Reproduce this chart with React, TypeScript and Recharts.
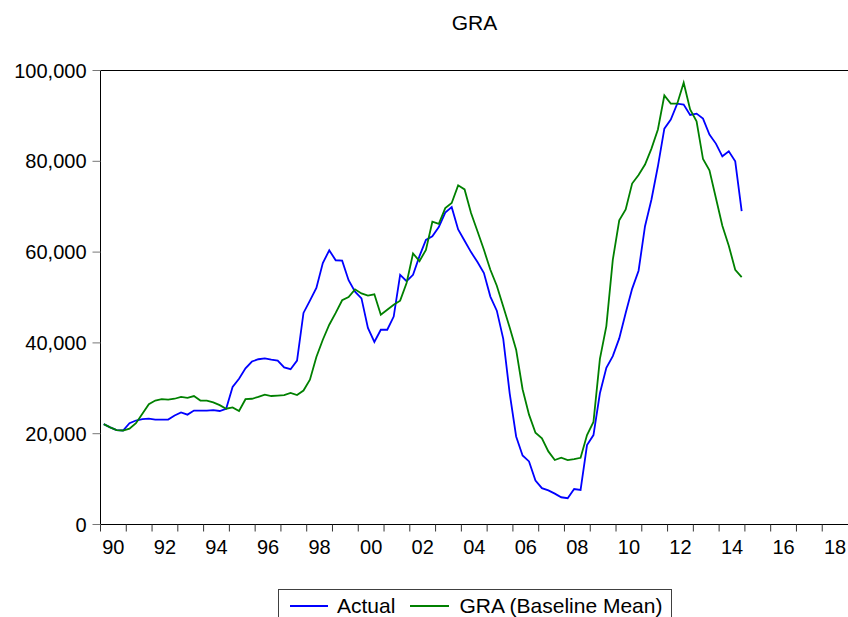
import { LineChart, Line, XAxis, YAxis, ReferenceLine } from "recharts";

// quarterly, 1990Q1 .. 2014Q4
const quarters: string[] = [];
for (let y = 1990; y <= 2014; y++) {
  for (let q = 1; q <= 4; q++) quarters.push(`${y}Q${q}`);
}

const actual = [
  22100, 21400, 20800, 20700, 22300, 22900, 23200, 23300, 23100, 23100,
  23100, 24000, 24700, 24200, 25100, 25100, 25100, 25200, 25000, 25500,
  30300, 32100, 34400, 35900, 36400, 36600, 36300, 36100, 34600, 34200,
  36100, 46600, 49300, 52100, 57600, 60400, 58200, 58100, 53800, 51300,
  49800, 43300, 40200, 42900, 42900, 45800, 55000, 53600, 55000, 59100,
  62700, 63500, 65500, 68700, 69900, 65000, 62500, 60000, 57800, 55400,
  50200, 47100, 40900, 28900, 19400, 15200, 13900, 9700, 8000, 7500,
  6800, 6000, 5800, 7800, 7600, 17500, 19700, 28900, 34500, 37100,
  41000, 46600, 51900, 55900, 65700, 71600, 78900, 87200, 89200, 92700,
  92500, 90200, 90500, 89400, 85900, 83900, 81100, 82200, 80000, 69000,
];

const baselineMean = [
  22100, 21400, 20800, 20700, 21100, 22300, 24400, 26500, 27300, 27600,
  27500, 27700, 28100, 27900, 28300, 27300, 27300, 26900, 26300, 25500,
  25800, 25000, 27600, 27700, 28100, 28600, 28300, 28400, 28500, 29000,
  28500, 29500, 31900, 36900, 40700, 44000, 46600, 49400, 50100, 51800,
  50900, 50400, 50700, 46200, 47300, 48400, 49300, 53200, 59700, 58000,
  60500, 66700, 66200, 69700, 70800, 74700, 73800, 68600, 64600, 60500,
  56100, 52600, 48000, 43400, 38500, 29800, 24200, 20200, 19000, 16100,
  14200, 14700, 14200, 14400, 14700, 19700, 22600, 36500, 43700, 58300,
  67000, 69400, 75100, 77000, 79300, 82800, 87000, 94500, 92700, 92700,
  97300, 91400, 88800, 80500, 78000, 71900, 65800, 61400, 56100, 54500,
];

const yearTicks = [
  1990, 1991, 1992, 1993, 1994, 1995, 1996, 1997, 1998, 1999, 2000, 2001, 2002, 2003, 2004,
  2005, 2006, 2007, 2008, 2009, 2010, 2011, 2012, 2013, 2014, 2015, 2016, 2017, 2018,
];
const yTicks = [0, 20000, 40000, 60000, 80000, 100000];

// observation sits in the middle of its quarter
const data = quarters.map((label, i) => ({
  t: Number(label.slice(0, 4)) + (Number(label.slice(5)) - 0.5) / 4,
  actual: actual[i],
  baseline: baselineMean[i],
}));

const FONT = "'Liberation Sans', Arial, sans-serif";
const AXIS_W = 100.5;
const X_DOMAIN: [number, number] = [1990, 2019];
const HALF_YEAR = (848 - AXIS_W) / (X_DOMAIN[1] - X_DOMAIN[0]) / 2;

// labels every other year, centred inside the year
const YearTick = (props: any) => {
  const { x, y, payload } = props;
  const yr = payload.value as number;
  if (yr % 2 !== 0) return <g />;
  return (
    <text x={x + HALF_YEAR} y={y} dy={14.4} textAnchor="middle" fill="#000" fontSize={20} fontFamily={FONT}>
      {String(yr % 100).padStart(2, "0")}
    </text>
  );
};

export default function App() {
  return (
    <div
      style={{
        position: "absolute",
        left: 0,
        top: 0,
        width: 848,
        height: 617,
        overflow: "hidden",
        background: "#fff",
        fontFamily: FONT,
      }}
    >
      <div
        style={{
          position: "absolute",
          top: 12,
          left: 101,
          width: 747,
          textAlign: "center",
          fontSize: 21,
          lineHeight: "21px",
          color: "#000",
        }}
      >
        GRA
      </div>

      <LineChart width={848} height={617} data={data} margin={{ top: 70.5, right: 0, bottom: 0, left: 0 }}>
        <XAxis
          dataKey="t"
          type="number"
          domain={X_DOMAIN}
          allowDataOverflow
          ticks={yearTicks}
          interval={0}
          tick={<YearTick />}
          tickSize={7}
          tickMargin={7.6}
          tickLine={{ stroke: "#333" }}
          axisLine={{ stroke: "#000" }}
          height={92.5}
        />
        <YAxis
          type="number"
          domain={[0, 100000]}
          ticks={yTicks}
          interval={0}
          width={AXIS_W}
          tickSize={8}
          tickMargin={6}
          tickFormatter={(v: number) => v.toLocaleString("en-US")}
          tick={{ fill: "#000", fontSize: 20, fontFamily: FONT }}
          tickLine={{ stroke: "#777" }}
          axisLine={{ stroke: "#000" }}
        />
        <ReferenceLine y={100000} stroke="#000" strokeWidth={1} />
        <Line
          type="linear"
          dataKey="actual"
          stroke="#0000ff"
          strokeWidth={1.8}
          dot={false}
          isAnimationActive={false}
        />
        <Line
          type="linear"
          dataKey="baseline"
          stroke="#008000"
          strokeWidth={1.8}
          dot={false}
          isAnimationActive={false}
        />
      </LineChart>

      <div
        style={{
          position: "absolute",
          left: 278,
          top: 589,
          width: 394,
          height: 33,
          border: "1px solid #404040",
          boxSizing: "border-box",
          display: "flex",
          alignItems: "center",
          fontSize: 21,
          color: "#000",
        }}
      >
        <span style={{ display: "inline-block", marginLeft: 11, width: 38, height: 2, background: "#0000ff" }} />
        <span style={{ marginLeft: 9 }}>Actual</span>
        <span style={{ display: "inline-block", marginLeft: 15, width: 39, height: 2, background: "#008000" }} />
        <span style={{ marginLeft: 10 }}>GRA (Baseline Mean)</span>
      </div>
    </div>
  );
}
